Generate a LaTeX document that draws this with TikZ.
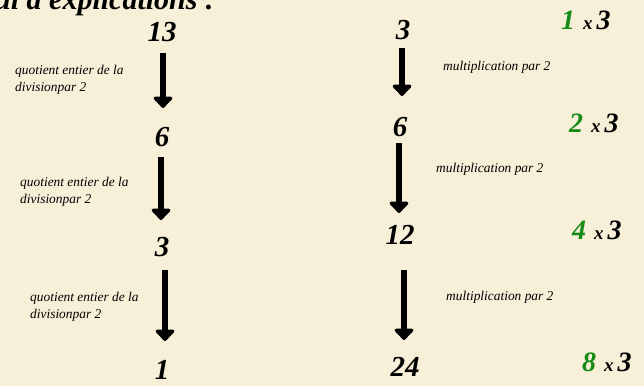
\documentclass[tikz,border=0pt]{standalone}
\usepackage{fontspec}
\setmainfont{Liberation Serif}
\usetikzlibrary{arrows.meta}
\definecolor{bg}{RGB}{247,239,216}
\definecolor{grn}{RGB}{22,140,22}
\tikzset{
  num/.style={font=\fontsize{29}{29}\selectfont\bfseries\itshape, inner sep=0pt},
  lbl/.style={font=\fontsize{13.4}{17}\selectfont\itshape, align=left, anchor=north west, inner sep=0pt},
  mul/.style={font=\fontsize{28}{28}\selectfont\bfseries\itshape, inner sep=0pt, anchor=west},
  arr/.style={line width=6pt, -{Triangle[width=22pt,length=12pt,round]}}
}
\newcommand{\tms}[1]{{\color{grn}#1}\hspace{8pt}{\fontsize{19}{19}\selectfont x}\hspace{4pt}3}
\begin{document}
\begin{tikzpicture}[x=1pt,y=-1pt]
\fill[bg] (0,0) rectangle (644,386);
\useasboundingbox (0,0) rectangle (644,386);
\clip (0,0) rectangle (644,386);
\node[font=\fontsize{30}{30}\selectfont\bfseries\itshape, anchor=base west, inner sep=0pt] (title) at (-6,9) {ui a explications :};
% left column
\node[num] (l1) at (162,32) {13};
\node[num] (l2) at (162,137) {6};
\node[num] (l3) at (162,247) {3};
\node[num] (l4) at (162,370) {1};
\coordinate (la1) at (163,53); \coordinate (lb1) at (163,108);
\coordinate (la2) at (161,157); \coordinate (lb2) at (161,220);
\coordinate (la3) at (165,270); \coordinate (lb3) at (165,341);
\draw[arr] (la1) -- (lb1);
\draw[arr] (la2) -- (lb2);
\draw[arr] (la3) -- (lb3);
\node[lbl] (q1) at (15,65) {quotient entier de la\\divisionpar 2};
\node[lbl] (q2) at (20,177) {quotient entier de la\\divisionpar 2};
\node[lbl] (q3) at (30,292) {quotient entier de la\\divisionpar 2};
% right column
\node[num] (r1) at (403,30) {3};
\node[num] (r2) at (400,127) {6};
\node[num] (r3) at (400,235) {12};
\node[num] (r4) at (405,367) {24};
\coordinate (ra1) at (402,48); \coordinate (rb1) at (402,96);
\coordinate (ra2) at (399,143); \coordinate (rb2) at (399,213);
\coordinate (ra3) at (404,270); \coordinate (rb3) at (404,340);
\draw[arr] (ra1) -- (rb1);
\draw[arr] (ra2) -- (rb2);
\draw[arr] (ra3) -- (rb3);
\node[lbl, anchor=west] (m1) at (443,67) {multiplication par 2};
\node[lbl, anchor=west] (m2) at (436,169) {multiplication par 2};
\node[lbl, anchor=west] (m3) at (446,297) {multiplication par 2};
% far right
\node[mul] (t1) at (561,20) {\tms{1}};
\node[mul] (t2) at (569,123) {\tms{2}};
\node[mul] (t3) at (572,230) {\tms{4}};
\node[mul] (t4) at (582,362) {\tms{8}};
\end{tikzpicture}
\end{document}
